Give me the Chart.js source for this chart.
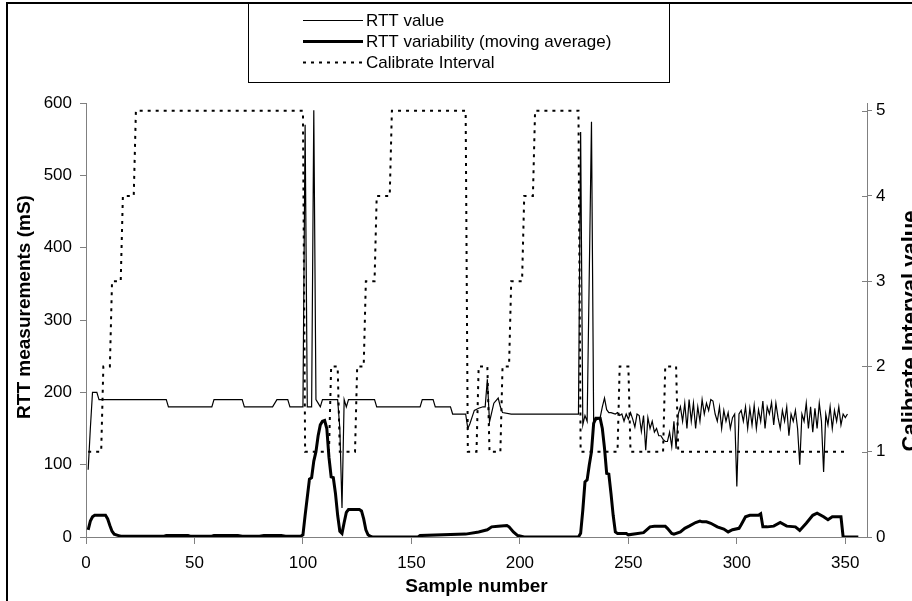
<!DOCTYPE html>
<html><head><meta charset="utf-8">
<script src="https://cdn.jsdelivr.net/npm/chart.js@4/dist/chart.umd.min.js"></script>
<style>html,body{margin:0;padding:0;background:#fff;overflow:hidden}</style>
</head><body>
<canvas id="c" width="912" height="601" style="display:block;width:912px;height:601px"></canvas>
<script>
// ---- data (sample number, value) ----
const rttSample = [1,2,3,5,6,37,38,58,59,72,73,86,88,93,94,100,101,102,104,105,106,107,108,109,116,117,118,119,120,121,133,134,154,155,160,161,168,169,175,176,177,178,179,181,183,184,185,186,188,190,191,192,196,227,228,229,230,231,233,234,235,236,237,238,239,240,241,242,243,244,245,246,247,248,249,250,251,252,253,254,255,256,257,258,259,260,261,262,263,264,265,266,267,268,269,270,271,272,273,274,275,276,277,278,279,280,281,282,283,284,285,286,287,288,289,290,291,292,293,294,295,296,297,298,299,300,301,302,303,304,305,306,307,308,309,310,311,312,313,314,315,316,317,318,319,320,321,322,323,324,325,326,327,328,329,330,331,332,333,334,335,336,337,338,339,340,341,342,343,344,345,346,347,348,349,350,351,352];
const rttValue  = [93,150,200,200,190,190,180,180,190,190,180,180,190,190,180,180,570,180,180,590,190,185,180,190,190,150,40,190,180,190,190,180,180,190,190,180,180,170,170,150,157,166,175,178,180,180,218,159,185,192,180,172,170,170,560,155,168,160,574,160,162,163,165,180,192,176,172,172,171,170,172,168,170,160,170,163,172,163,152,170,168,146,168,120,165,150,160,145,150,140,140,135,132,132,145,125,160,122,170,180,160,185,150,190,160,185,150,180,160,190,170,185,175,190,188,170,160,180,150,175,160,172,150,165,170,70,170,175,160,180,150,178,155,182,150,176,160,188,150,180,170,186,155,185,165,150,175,160,180,140,170,160,175,150,100,170,160,185,150,180,145,178,150,185,160,90,170,155,180,150,175,160,180,155,170,165,170];
const varSample = [1,2,3,4,9,10,11,12,13,15,16,36,37,47,48,58,59,70,72,80,82,90,92,99,100,101,102,103,104,105,106,107,108,109,110,111,112,113,114,115,116,117,118,119,120,121,126,127,128,129,130,131,132,153,154,175,181,185,187,190,194,195,197,199,202,227,228,229,230,231,232,233,234,235,237,238,239,240,241,242,243,244,245,249,250,257,260,262,267,268,270,271,274,276,278,281,283,284,286,288,291,294,296,298,301,302,304,306,310,311,312,314,317,320,323,327,329,332,335,337,340,342,344,348,349,356];
const varValue  = [10,22,28,30,30,25,16,8,4,2,1,1,2,2,1,1,2,2,1,1,2,2,1,1,3,30,55,80,82,105,118,140,155,160,161,150,110,83,82,60,30,8,5,20,34,38,38,36,25,10,3,1,0,0,2,4,7,10,14,15,16,14,7,2,0,0,5,37,76,79,100,118,157,164,164,150,123,88,87,60,30,7,5,5,3,6,14,15,15,12,5,4,7,12,15,20,22,21,21,19,14,11,7,10,12,17,28,30,30,32,14,14,15,20,15,14,9,19,30,33,28,24,28,28,0,0];
const calSample = [1,7,8,11,12,16,17,22,23,100,101,112,113,116,117,124,125,128,129,133,134,140,141,175,176,180,181,185,186,191,192,195,196,201,202,206,207,227,228,245,246,250,251,266,267,272,273,351];
const calValue  = [1,1,2,2,3,3,4,4,5,5,1,1,2,2,1,1,2,2,3,3,4,4,5,5,1,1,2,2,1,1,2,2,3,3,4,4,5,5,1,1,2,2,1,1,2,2,1,1];
const seriesNames = ["RTT value", "RTT variability (moving average)", "Calibrate Interval"];
const xTickValues = [0,50,100,150,200,250,300,350];
const leftTickValues = [0,100,200,300,400,500,600];
const rightTickValues = [0,1,2,3,4,5];
const axisTitles = {x: "Sample number", left: "RTT measurements (mS)", right: "Calibrate Interval value"};

const pts = (xs, ys) => xs.map((x, i) => ({x, y: ys[i]}));
const FONT = "'Liberation Sans', Arial, sans-serif";
const AXIS = '#808080';

const decorations = {
  id: 'decorations',
  afterDraw(chart) {
    const ctx = chart.ctx;
    const ca = chart.chartArea;
    ctx.save();
    // outer frame
    ctx.strokeStyle = '#000'; ctx.lineWidth = 2;
    ctx.beginPath(); ctx.moveTo(7, 605); ctx.lineTo(7, 3); ctx.lineTo(915, 3); ctx.stroke();
    // inner half of right-axis ticks
    const y1 = chart.scales.y1;
    ctx.strokeStyle = AXIS; ctx.lineWidth = 1;
    y1.ticks.forEach(t => {
      const py = Math.round(y1.getPixelForValue(t.value)) + 0.5;
      ctx.beginPath(); ctx.moveTo(ca.right - 5, py); ctx.lineTo(ca.right, py); ctx.stroke();
    });
    // axis titles (vertical)
    ctx.fillStyle = '#000';
    ctx.font = "bold 19px " + FONT;
    ctx.textAlign = 'center'; ctx.textBaseline = 'middle';
    ctx.save(); ctx.translate(25, 307); ctx.rotate(-Math.PI / 2); ctx.fillText(axisTitles.left, 0, 0); ctx.restore();
    ctx.font = "bold 22px " + FONT;
    ctx.save(); ctx.translate(911, 331); ctx.rotate(-Math.PI / 2); ctx.fillText(axisTitles.right, 0, 0); ctx.restore();
    // legend
    const lx = 248, ly = 3, lw = 421, lh = 79;
    ctx.fillStyle = '#fff'; ctx.fillRect(lx, ly, lw, lh);
    ctx.strokeStyle = '#000'; ctx.lineWidth = 1;
    ctx.strokeRect(lx + 0.5, ly + 0.5, lw, lh);
    ctx.font = "17px " + FONT; ctx.textAlign = 'left'; ctx.fillStyle = '#000';
    chart.data.datasets.forEach((ds, i) => {
      const yy = 20 + i * 21;
      ctx.save();
      ctx.strokeStyle = ds.borderColor; ctx.lineWidth = ds.borderWidth;
      ctx.setLineDash(ds.borderDash || []);
      ctx.beginPath(); ctx.moveTo(303, yy + 0.5); ctx.lineTo(363, yy + 0.5); ctx.stroke();
      ctx.restore();
      ctx.fillText(ds.label, 366, yy + 1);
    });
    ctx.restore();
  }
};

new Chart(document.getElementById('c'), {
  type: 'line',
  data: {
    datasets: [
      {label: seriesNames[0], data: pts(rttSample, rttValue), yAxisID: 'y', borderColor: '#000', borderWidth: 1.2, pointRadius: 0, tension: 0},
      {label: seriesNames[1], data: pts(varSample, varValue), yAxisID: 'y', borderColor: '#000', borderWidth: 3, pointRadius: 0, tension: 0},
      {label: seriesNames[2], data: pts(calSample, calValue), yAxisID: 'y1', borderColor: '#000', borderWidth: 2, borderDash: [3, 5], pointRadius: 0, tension: 0}
    ]
  },
  options: {
    responsive: false, animation: false, devicePixelRatio: 1,
    layout: {padding: {top: 103, left: 0, right: 0, bottom: 0}},
    plugins: {legend: {display: false}, tooltip: {enabled: false}},
    scales: {
      x: {
        type: 'linear', min: 0, max: 360,
        afterFit: s => { s.height = 64; },
        afterBuildTicks: s => { s.ticks = xTickValues.map(v => ({value: v})); },
        ticks: {font: {family: FONT, size: 17}, color: '#000', padding: 9, maxRotation: 0},
        grid: {drawOnChartArea: false, tickLength: 7, color: AXIS},
        border: {color: AXIS},
        title: {display: true, text: axisTitles.x, font: {family: FONT, size: 19, weight: 'bold'}, color: '#000', padding: {top: 0, bottom: 3}}
      },
      y: {
        position: 'left', min: 0, max: 600,
        afterFit: s => { s.width = 86; },
        afterBuildTicks: s => { s.ticks = leftTickValues.map(v => ({value: v})); },
        ticks: {font: {family: FONT, size: 17}, color: '#000', padding: 8},
        grid: {drawOnChartArea: false, tickLength: 6, color: AXIS},
        border: {color: AXIS}
      },
      y1: {
        position: 'right', min: 0, max: 5.09,
        afterFit: s => { s.width = 45; },
        afterBuildTicks: s => { s.ticks = rightTickValues.map(v => ({value: v})); },
        ticks: {font: {family: FONT, size: 17}, color: '#000', padding: 4},
        grid: {drawOnChartArea: false, tickLength: 5, color: AXIS},
        border: {color: AXIS}
      }
    }
  },
  plugins: [decorations]
});
</script>
</body></html>
